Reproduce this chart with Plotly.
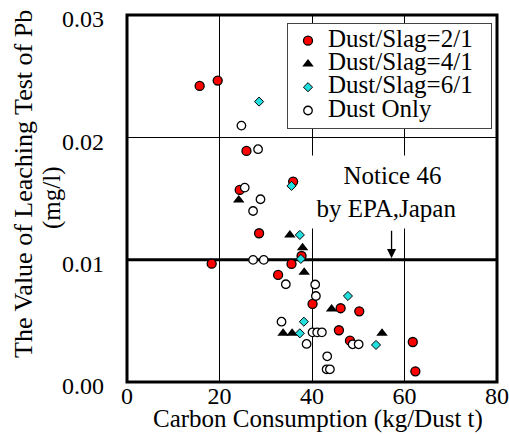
import plotly.graph_objects as go

# ---- data ----
red_x = [15.71, 19.61, 25.83, 24.37, 35.92, 28.56, 37.74, 18.31, 35.57, 32.67, 40.12, 46.19, 50.22, 45.82, 48.21, 61.79, 62.35]
red_y = [0.02420, 0.02464, 0.01889, 0.01570, 0.01638, 0.01216, 0.01030, 0.00967, 0.00965, 0.00875, 0.00638, 0.00603, 0.00578, 0.00423, 0.00338, 0.00327, 0.00087]

tri_x = [24.16, 35.21, 37.96, 38.31, 44.24, 33.75, 35.70, 55.14]
tri_y = [0.01488, 0.01202, 0.01098, 0.00897, 0.00597, 0.00398, 0.00398, 0.00398]

cy_x = [28.56, 35.57, 37.37, 37.59, 47.77, 38.24, 37.37, 53.84]
cy_y = [0.02292, 0.01603, 0.01202, 0.01006, 0.00703, 0.00493, 0.00398, 0.00303]

wh_x = [24.74, 28.34, 25.46, 28.86, 27.26, 27.26, 29.57, 34.34, 40.69, 40.84, 33.41, 40.12, 41.12, 42.14, 38.83, 48.79, 50.09, 43.29, 43.16, 43.87]
wh_y = [0.02096, 0.01903, 0.01589, 0.01494, 0.01398, 0.00998, 0.00998, 0.00799, 0.00797, 0.00703, 0.00493, 0.00406, 0.00406, 0.00406, 0.00311, 0.00308, 0.00308, 0.00210, 0.00104, 0.00104]

series_names = ["Dust/Slag=2/1", "Dust/Slag=4/1", "Dust/Slag=6/1", "Dust Only"]
x_ticks = [0, 20, 40, 60, 80]
y_ticks = [0.00, 0.01, 0.02, 0.03]
limit_value = 0.01
notice_x = 57.2

FONT = "Liberation Serif"
LEG_FS = 15.6
TXT = 25

def leg(name):
    return '<span style="font-size:25px">' + name + '&nbsp;&nbsp;</span>'

fig = go.Figure()
fig.add_trace(go.Scatter(x=red_x, y=red_y, mode="markers", name=leg(series_names[0]),
                         marker=dict(symbol="circle", size=9, color="#ff0000", line=dict(color="black", width=1.3))))
fig.add_trace(go.Scatter(x=tri_x, y=tri_y, mode="markers", name=leg(series_names[1]),
                         marker=dict(symbol="triangle-up", size=10, color="black", line=dict(color="black", width=0))))
fig.add_trace(go.Scatter(x=cy_x, y=cy_y, mode="markers", name=leg(series_names[2]),
                         marker=dict(symbol="diamond", size=7, color="#22dede", line=dict(color="black", width=1))))
fig.add_trace(go.Scatter(x=wh_x, y=wh_y, mode="markers", name=leg(series_names[3]),
                         marker=dict(symbol="circle", size=8.5, color="white", line=dict(color="black", width=1.3))))

# thick limit line
fig.add_shape(type="line", xref="x", yref="y", x0=x_ticks[0], x1=x_ticks[-1], y0=limit_value, y1=limit_value,
              line=dict(color="black", width=3), layer="between")
# frame
fig.add_shape(type="rect", xref="paper", yref="paper", x0=0, x1=1, y0=0, y1=1,
              line=dict(color="black", width=3), layer="above")

ann = []
# notice text box
ann.append(dict(x=(386.5 - 127) / 370, y=(382 - 191.5) / 367, xref="paper", yref="paper",
                text="&nbsp;&nbsp;Notice 46<br>by EPA,Japan", showarrow=False, align="center",
                font=dict(family=FONT, size=TXT, color="black"), bgcolor="white",
                width=155, height=72, borderpad=0, xanchor="center", yanchor="middle"))
# arrow
ann.append(dict(x=notice_x, y=limit_value + 0.00012, xref="x", yref="y", text="", showarrow=True,
                ax=0, ay=-29, arrowhead=2, arrowsize=1.4, arrowwidth=1.3, arrowcolor="black", standoff=0))
# axis titles
ann.append(dict(x=(23 - 127) / 370, y=(382 - 184) / 367, xref="paper", yref="paper",
                text="The Value of Leaching Test of Pb", textangle=-90, showarrow=False,
                font=dict(family=FONT, size=26, color="black"), xanchor="center", yanchor="middle"))
ann.append(dict(x=(52 - 127) / 370, y=(382 - 198) / 367, xref="paper", yref="paper",
                text="(mg/l)", textangle=-90, showarrow=False,
                font=dict(family=FONT, size=TXT, color="black"), xanchor="center", yanchor="middle"))
ann.append(dict(x=(317.5 - 127) / 370, y=(382 - 419.5) / 367, xref="paper", yref="paper",
                text="Carbon Consumption (kg/Dust t)", showarrow=False,
                font=dict(family=FONT, size=TXT, color="black"), xanchor="center", yanchor="middle"))

fig.update_layout(
    width=509, height=435,
    margin=dict(l=127, r=12, t=15, b=53, autoexpand=False),
    paper_bgcolor="white", plot_bgcolor="white",
    font=dict(family=FONT, size=24, color="black"),
    showlegend=True,
    legend=dict(x=(287 - 127) / 370, y=(382 - 23) / 367, xanchor="left", yanchor="top",
                bgcolor="white", bordercolor="#444", borderwidth=1,
                font=dict(family=FONT, size=LEG_FS, color="black"), tracegroupgap=0),
    annotations=ann,
)
fig.update_xaxes(range=[x_ticks[0], x_ticks[-1]], tickvals=x_ticks, showgrid=True, gridcolor="black", gridwidth=1,
                 zeroline=False, showline=False, ticks="", tickfont=dict(family=FONT, size=24, color="black"),
                 ticklabelstandoff=-3, automargin=False)
fig.update_yaxes(range=[y_ticks[0], y_ticks[-1]], tickvals=y_ticks, tickformat=".2f", showgrid=True,
                 gridcolor="black", gridwidth=1, zeroline=False, showline=False, ticks="",
                 tickfont=dict(family=FONT, size=24, color="black"), ticklabelstandoff=22, ticklabelshift=4,
                 ticklabeloverflow="allow", automargin=False)

fig.write_html("out.html")
